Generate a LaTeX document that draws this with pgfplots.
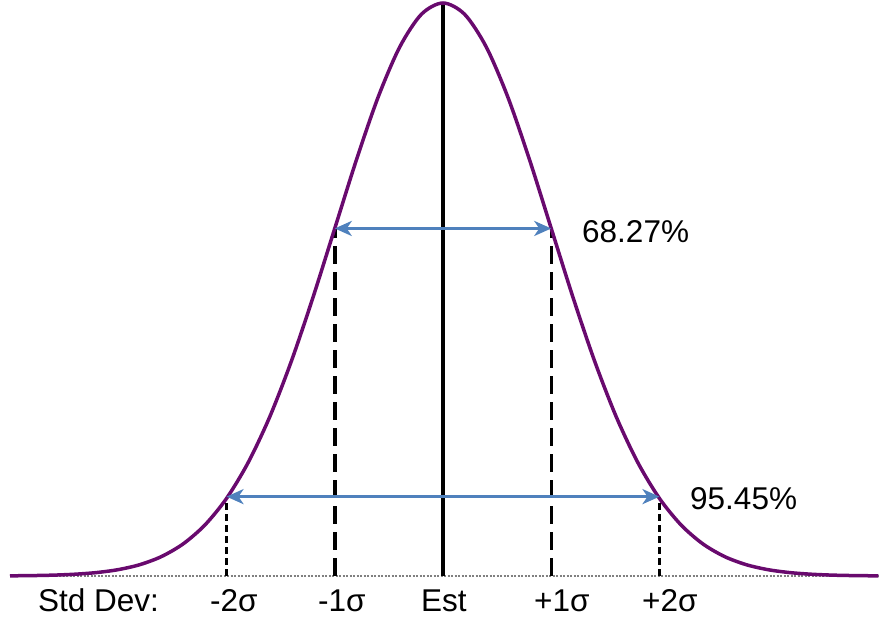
\documentclass[border=0pt]{standalone}
\usepackage{pgfplots}
\pgfplotsset{compat=1.18}
\usepackage{fontspec}
\setmainfont{Liberation Sans}
\usetikzlibrary{arrows.meta}
\definecolor{curvepurple}{RGB}{105,10,110}
\definecolor{arrowblue}{RGB}{79,129,189}
\begin{document}
\begin{tikzpicture}[x=1pt,y=1pt]
\path[use as bounding box] (0,0) rectangle (880,617);
\begin{axis}[at={(10pt,41pt)}, anchor=south west, scale only axis,
  width=866pt, height=573pt, xmin=-4, xmax=4, ymin=0, ymax=1,
  axis lines=none, clip=false]
% baseline
\addplot[gray, line width=2pt, dash pattern=on 2pt off 1.5pt] coordinates {(-4,0) (4.02,0)};
% centre line
\addplot[black, line width=3.5pt] coordinates {(0,0) (0,1)};
% sigma lines
\addplot[black, line width=3.5pt, dash pattern=on 18pt off 8pt] coordinates {(-1,0) (-1,0.6065)};
\addplot[black, line width=3.5pt, dash pattern=on 18pt off 8pt] coordinates {(1,0) (1,0.6065)};
\addplot[black, line width=3.5pt, dash pattern=on 7pt off 4pt] coordinates {(-2,0) (-2,0.1353)};
\addplot[black, line width=3.5pt, dash pattern=on 7pt off 4pt] coordinates {(2,0) (2,0.1353)};
% curve
\addplot[curvepurple, line width=3.5pt, smooth] coordinates {
(-4.0,0.0003) (-3.8,0.0007) (-3.6,0.0015) (-3.4,0.0031) (-3.2,0.0060)
(-3.0,0.0111) (-2.8,0.0198) (-2.6,0.0340) (-2.4,0.0561) (-2.2,0.0889)
(-2.0,0.1353) (-1.8,0.1979) (-1.6,0.2780) (-1.4,0.3753) (-1.2,0.4868)
(-1.0,0.6065) (-0.8,0.7261) (-0.6,0.8353) (-0.4,0.9231) (-0.2,0.9802)
(0.0,1.0000)
(0.2,0.9802) (0.4,0.9231) (0.6,0.8353) (0.8,0.7261) (1.0,0.6065)
(1.2,0.4868) (1.4,0.3753) (1.6,0.2780) (1.8,0.1979) (2.0,0.1353)
(2.2,0.0889) (2.4,0.0561) (2.6,0.0340) (2.8,0.0198) (3.0,0.0111)
(3.2,0.0060) (3.4,0.0031) (3.6,0.0015) (3.8,0.0007) (4.0,0.0003)
(4.02,0.0003)};
% arrows
\addplot[arrowblue, line width=3.5pt, {Stealth[length=17pt,width=15pt,inset=5pt]}-{Stealth[length=17pt,width=15pt,inset=5pt]}] coordinates {(-1,0.6065) (1,0.6065)};
\addplot[arrowblue, line width=3.5pt, {Stealth[length=17pt,width=15pt,inset=5pt]}-{Stealth[length=17pt,width=15pt,inset=5pt]}] coordinates {(-2,0.1385) (2,0.1385)};
\end{axis}
\fontsize{31.5}{37}\selectfont
\node[anchor=base west, inner sep=0pt] at (582,374) {68.27\%};
\node[anchor=base west, inner sep=0pt] at (690,107) {95.45\%};
\node[anchor=base west, inner sep=0pt] at (38,5) {Std Dev:};
\node[anchor=base west, inner sep=0pt] at (210,5) {-2σ};
\node[anchor=base west, inner sep=0pt] at (318,5) {-1σ};
\node[anchor=base west, inner sep=0pt] at (421,5) {Est};
\node[anchor=base west, inner sep=0pt] at (534,5) {+1σ};
\node[anchor=base west, inner sep=0pt] at (642,5) {+2σ};
\end{tikzpicture}
\end{document}
